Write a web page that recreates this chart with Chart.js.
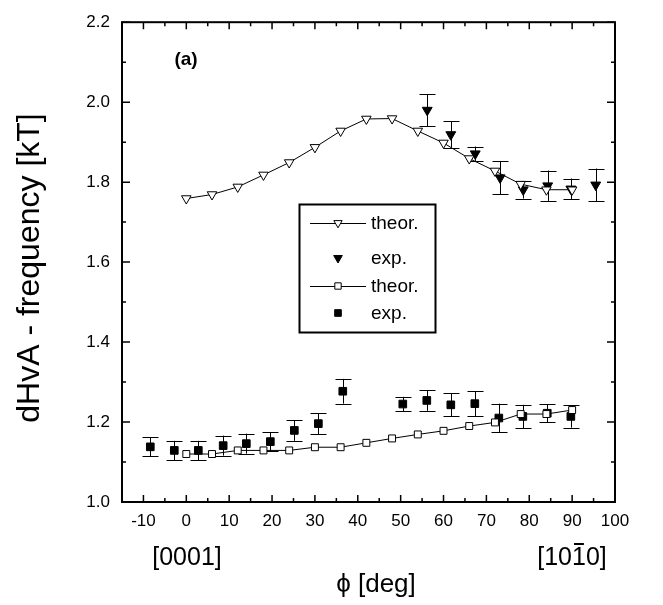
<!DOCTYPE html>
<html>
<head>
<meta charset="utf-8">
<script src="https://cdn.jsdelivr.net/npm/chart.js@4.4.1/dist/chart.umd.min.js"></script>
<style>
  html, body { margin: 0; padding: 0; background: #fff; }
  #c { display: block; }
</style>
</head>
<body>
<canvas id="c" width="663" height="605"></canvas>
<script>
// values
const theorTriX = [0, 6, 12, 18, 24, 30, 36, 42, 48, 54, 60, 66, 72, 78, 84, 90];
const theorTriY = [1.759, 1.769, 1.788, 1.818, 1.849, 1.887, 1.928, 1.958, 1.959, 1.928, 1.898, 1.859, 1.828, 1.795, 1.781, 1.781];

const expTriX = [56.2, 61.7, 67.4, 73.2, 78.6, 84.3, 89.7, 95.5];
const expTriY = [1.980, 1.919, 1.871, 1.811, 1.781, 1.791, 1.783, 1.793];
const expTriErr = [0.040, 0.033, 0.018, 0.041, 0.022, 0.038, 0.026, 0.041];

const theorSqX = [0, 6, 12, 18, 24, 30, 36, 42, 48, 54, 60, 66, 72, 78, 84, 90];
const theorSqY = [1.120, 1.120, 1.129, 1.129, 1.129, 1.137, 1.137, 1.148, 1.159, 1.169, 1.178, 1.190, 1.199, 1.220, 1.220, 1.230];

const expSqX = [-8.4, -2.8, 2.8, 8.6, 14.0, 19.6, 25.2, 30.8, 36.5, 50.5, 56.1, 61.7, 67.3, 72.9, 78.5, 84.2, 89.7];
const expSqY = [1.138, 1.129, 1.129, 1.141, 1.146, 1.151, 1.179, 1.196, 1.277, 1.245, 1.254, 1.243, 1.246, 1.210, 1.214, 1.222, 1.214];
const expSqErr = [0.024, 0.024, 0.024, 0.025, 0.025, 0.024, 0.026, 0.026, 0.031, 0.018, 0.026, 0.029, 0.031, 0.036, 0.029, 0.022, 0.028];

const legendLabels = ['theor.', 'exp.', 'theor.', 'exp.'];

const FONT = 'Liberation Sans, Arial, sans-serif';

function pts(xs, ys) {
  return xs.map((x, i) => ({ x: x, y: ys[i] }));
}

Chart.defaults.color = '#000';
Chart.defaults.font.family = FONT;

// error bars, drawn under the markers
const errorBars = {
  id: 'errorBars',
  beforeDatasetsDraw(chart) {
    const ctx = chart.ctx;
    const xs = chart.scales.x, ys = chart.scales.y;
    ctx.save();
    ctx.strokeStyle = '#000';
    ctx.lineWidth = 1;
    chart.data.datasets.forEach(ds => {
      if (!ds.errors) return;
      ds.data.forEach((p, i) => {
        const px = Math.round(xs.getPixelForValue(p.x)) + 0.5;
        const top = ys.getPixelForValue(p.y + ds.errors[i]);
        const bot = ys.getPixelForValue(p.y - ds.errors[i]);
        ctx.beginPath();
        ctx.moveTo(px, top); ctx.lineTo(px, bot);
        ctx.moveTo(px - 8, Math.round(top) + 0.5); ctx.lineTo(px + 8, Math.round(top) + 0.5);
        ctx.moveTo(px - 8, Math.round(bot) + 0.5); ctx.lineTo(px + 8, Math.round(bot) + 0.5);
        ctx.stroke();
      });
    });
    ctx.restore();
  }
};

// frame, inward ticks, titles, legend
const decorations = {
  id: 'decorations',
  afterDraw(chart) {
    const ctx = chart.ctx;
    const a = chart.chartArea;
    const xs = chart.scales.x, ys = chart.scales.y;
    ctx.save();
    ctx.strokeStyle = '#000';

    // ticks
    ctx.lineWidth = 1.5;
    ctx.beginPath();
    xs.ticks.forEach(t => {
      const px = xs.getPixelForValue(t.value);
      ctx.moveTo(px, a.bottom); ctx.lineTo(px, a.bottom - 7);
      ctx.moveTo(px, a.top); ctx.lineTo(px, a.top + 7);
      const m = xs.getPixelForValue(t.value - 5);
      if (m > a.left + 1) {
        ctx.moveTo(m, a.bottom); ctx.lineTo(m, a.bottom - 4);
        ctx.moveTo(m, a.top); ctx.lineTo(m, a.top + 4);
      }
    });
    ys.ticks.forEach(t => {
      const py = ys.getPixelForValue(t.value);
      ctx.moveTo(a.left, py); ctx.lineTo(a.left + 8, py);
      ctx.moveTo(a.right, py); ctx.lineTo(a.right - 8, py);
      const m = ys.getPixelForValue(t.value + 0.1);
      if (m > a.top + 1) {
        ctx.moveTo(a.left, m); ctx.lineTo(a.left + 4, m);
        ctx.moveTo(a.right, m); ctx.lineTo(a.right - 4, m);
      }
    });
    ctx.stroke();

    // frame
    ctx.lineWidth = 2;
    ctx.strokeRect(a.left, a.top, a.right - a.left, a.bottom - a.top);

    // texts
    ctx.fillStyle = '#000';
    ctx.textAlign = 'center';
    ctx.textBaseline = 'middle';
    ctx.font = 'bold 19px ' + FONT;
    ctx.fillText('(a)', 186, 60);

    ctx.font = '25px ' + FONT;
    ctx.fillText('[0001]', 187, 558);
    // [10-10] with a bar over the second "1"
    const dir = '[1010]';
    const w = ctx.measureText(dir).width;
    ctx.fillText(dir, 572, 558);
    const barL = 572 - w / 2 + ctx.measureText('[10').width;
    const barW = ctx.measureText('1').width;
    ctx.lineWidth = 2;
    ctx.beginPath();
    ctx.moveTo(barL + 2, 544); ctx.lineTo(barL + barW - 2, 544);
    ctx.stroke();

    ctx.font = '26px ' + FONT;
    ctx.fillText('\u03d5 [deg]', 376, 585);

    ctx.save();
    ctx.translate(30, 268);
    ctx.rotate(-Math.PI / 2);
    ctx.font = '32px ' + FONT;
    ctx.fillText('dHvA - frequency [kT]', 0, 0);
    ctx.restore();

    // legend
    ctx.lineWidth = 2;
    ctx.strokeRect(299.5, 204.5, 136, 128);
    const rows = [223, 258, 286, 313];
    const styles = [
      { line: true, pointStyle: 'triangle', rotation: 180, radius: 4.8, fill: '#fff' },
      { line: false, pointStyle: 'triangle', rotation: 180, radius: 5, fill: '#000' },
      { line: true, pointStyle: 'rect', rotation: 0, radius: 4.5, fill: '#fff' },
      { line: false, pointStyle: 'rect', rotation: 0, radius: 4.7, fill: '#000' }
    ];
    ctx.font = '19px ' + FONT;
    ctx.textAlign = 'left';
    rows.forEach((y, i) => {
      const s = styles[i];
      ctx.lineWidth = 1;
      if (s.line) {
        ctx.beginPath();
        ctx.moveTo(310, y + 0.5); ctx.lineTo(366, y + 0.5);
        ctx.stroke();
      }
      ctx.fillStyle = s.fill;
      ctx.strokeStyle = '#000';
      Chart.helpers.drawPoint(ctx, { pointStyle: s.pointStyle, radius: s.radius, rotation: s.rotation, borderWidth: 1 }, 338, y);
      ctx.fillStyle = '#000';
      ctx.fillText(legendLabels[i], 371, y + 1);
    });

    ctx.restore();
  }
};

new Chart(document.getElementById('c'), {
  type: 'scatter',
  data: {
    datasets: [
      {
        label: 'theor.',
        data: pts(theorTriX, theorTriY),
        showLine: true,
        borderColor: '#000',
        borderWidth: 1,
        pointStyle: 'triangle',
        rotation: 180,
        pointRadius: 5.5,
        pointBackgroundColor: '#fff',
        pointBorderColor: '#000',
        pointBorderWidth: 1
      },
      {
        label: 'exp.',
        data: pts(expTriX, expTriY),
        errors: expTriErr,
        showLine: false,
        pointStyle: 'triangle',
        rotation: 180,
        pointRadius: 5.7,
        pointBackgroundColor: '#000',
        pointBorderColor: '#000',
        pointBorderWidth: 1
      },
      {
        label: 'theor.',
        data: pts(theorSqX, theorSqY),
        showLine: true,
        borderColor: '#000',
        borderWidth: 1,
        pointStyle: 'rect',
        pointRadius: 4.9,
        pointBackgroundColor: '#fff',
        pointBorderColor: '#000',
        pointBorderWidth: 1
      },
      {
        label: 'exp.',
        data: pts(expSqX, expSqY),
        errors: expSqErr,
        showLine: false,
        pointStyle: 'rect',
        pointRadius: 5.4,
        pointBackgroundColor: '#000',
        pointBorderColor: '#000',
        pointBorderWidth: 1
      }
    ]
  },
  options: {
    responsive: false,
    animation: false,
    devicePixelRatio: 1,
    layout: { padding: { top: 10, right: 48, left: 0, bottom: 0 } },
    plugins: {
      legend: { display: false },
      tooltip: { enabled: false }
    },
    scales: {
      x: {
        type: 'linear',
        min: -15,
        max: 100,
        grid: { display: false, drawTicks: false },
        border: { display: false },
        ticks: {
          stepSize: 10,
          includeBounds: false,
          padding: 9.5,
          maxRotation: 0,
          font: { size: 17, family: FONT },
          color: '#000'
        },
        afterFit(s) { s.height = 103; }
      },
      y: {
        type: 'linear',
        min: 1.0,
        max: 2.2,
        grid: { display: false, drawTicks: false },
        border: { display: false },
        ticks: {
          stepSize: 0.2,
          padding: 12,
          font: { size: 17, family: FONT },
          color: '#000',
          callback: v => v.toFixed(1)
        },
        afterFit(s) { s.width = 122; }
      }
    }
  },
  plugins: [errorBars, decorations]
});
</script>
</body>
</html>
